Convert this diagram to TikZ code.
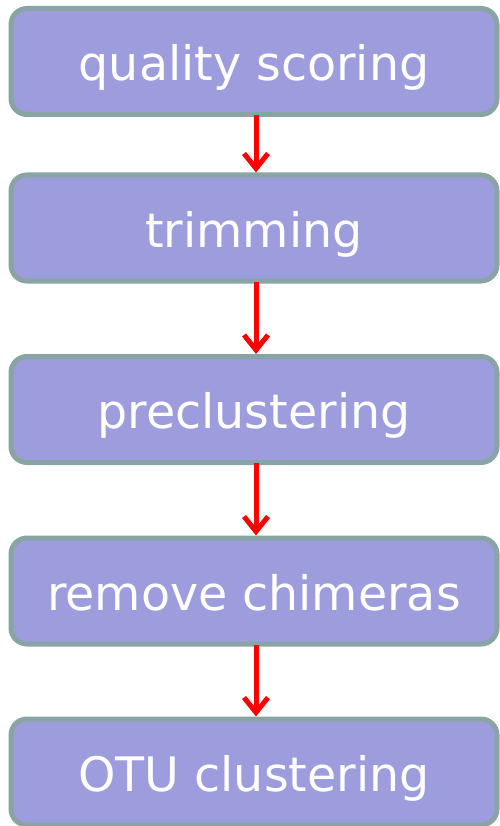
\documentclass[tikz,border=0pt]{standalone}
\usepackage{fontspec}
\setmainfont{DejaVu Sans}
\usetikzlibrary{arrows.meta}
\definecolor{boxfill}{RGB}{157,156,221}
\definecolor{boxline}{RGB}{136,164,164}
\begin{document}
\begin{tikzpicture}[x=1pt,y=1pt,
  stepbox/.style={draw=boxline, fill=boxfill, line width=5pt, rounded corners=16pt,
    minimum width=486pt, minimum height=106pt, inner sep=0pt,
    text=white, font=\fontsize{47.5}{56}\selectfont, text height=45pt, text depth=7pt},
  flow/.style={draw=red, line width=5pt, -{Straight Barb[length=15pt,width=24pt]}}]
\useasboundingbox (0,0) rectangle (499,-826);
\node[stepbox] (b1) at (254,-61.5) {quality scoring};
\node[stepbox] (b2) at (254,-228) {trimming};
\node[stepbox] (b3) at (254,-409.5) {preclustering};
\node[stepbox] (b4) at (254,-591) {remove chimeras};
\node[stepbox] (b5) at (254,-772) {OTU clustering};
\draw[flow] ([xshift=2pt,yshift=2pt]b1.south) -- ([xshift=2pt]b2.north);
\draw[flow] ([xshift=2pt,yshift=2pt]b2.south) -- ([xshift=2pt]b3.north);
\draw[flow] ([xshift=2pt,yshift=2pt]b3.south) -- ([xshift=2pt]b4.north);
\draw[flow] ([xshift=2pt,yshift=2pt]b4.south) -- ([xshift=2pt]b5.north);
\end{tikzpicture}
\end{document}
